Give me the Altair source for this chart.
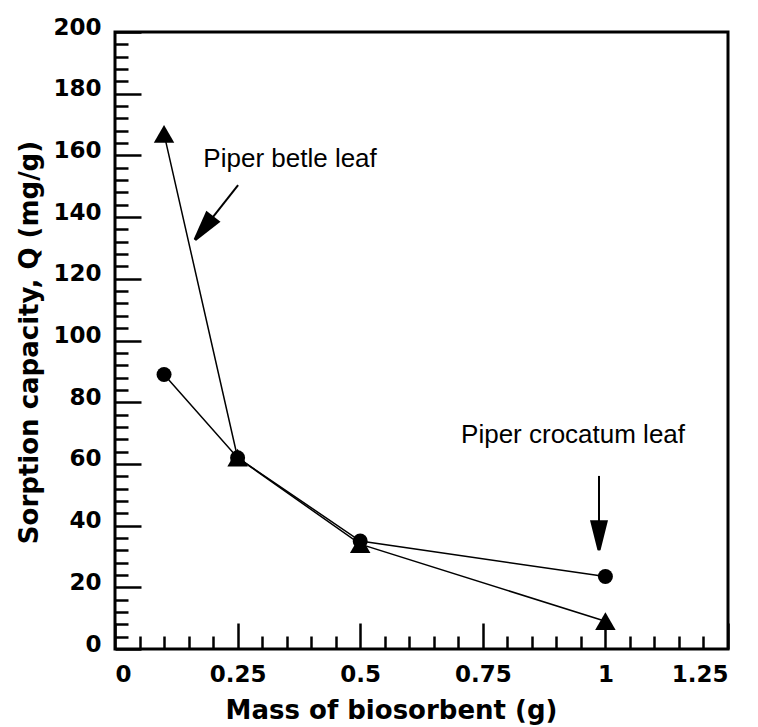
import altair as alt
import pandas as pd

# ---- data ----
mass = [0.1, 0.25, 0.5, 1.0]
betle_q = [167, 62, 34, 9]          # triangles (Piper betle leaf)
crocatum_q = [89, 62, 35, 23.5]     # circles (Piper crocatum leaf)

x_major = [0, 0.25, 0.5, 0.75, 1, 1.25]
x_minor = [0, 0.05, 0.1, 0.15, 0.2, 0.25, 0.3, 0.35, 0.4, 0.45, 0.5, 0.55, 0.6,
           0.65, 0.7, 0.75, 0.8, 0.85, 0.9, 0.95, 1.0, 1.05, 1.1, 1.15, 1.2, 1.25]
y_major = [0, 20, 40, 60, 80, 100, 120, 140, 160, 180, 200]
y_minor = list(range(0, 201, 4))

label_text = ["Piper betle leaf", "Piper crocatum leaf"]
label_x = [0.357, 0.934]
label_y = [156.2, 66.8]
arrow_x_start = [0.251, 0.987]
arrow_y_start = [150.4, 56.1]
arrow_x_end = [0.163, 0.987]
arrow_y_end = [132.6, 32.0]
arrow_angle = [38, 0]

df = pd.DataFrame({
    "mass": mass * 2,
    "q": betle_q + crocatum_q,
    "series": ["betle"] * 4 + ["crocatum"] * 4,
})
ann = pd.DataFrame({
    "text": label_text, "tx": label_x, "ty": label_y,
    "x1": arrow_x_start, "y1": arrow_y_start,
    "x2": arrow_x_end, "y2": arrow_y_end, "angle": arrow_angle,
})

W, H = 613, 617
xs = alt.Scale(domain=[0, 1.25], nice=False, zero=False)
ys = alt.Scale(domain=[0, 200], nice=False, zero=False)

FONT = "DejaVu Sans"

# axes carrying labels and titles (no ticks)
x_label_axis = alt.Axis(
    orient="bottom", values=x_major, format=".12~g", ticks=False, domain=False, grid=False,
    labelFont=FONT, labelFontWeight="bold", labelFontSize=23, labelColor="black",
    labelPadding=14, labelBaseline="top",
    title="Mass of biosorbent (g)", titleFont=FONT, titleFontWeight="bold",
    titleFontSize=26, titleColor="black", titleX=276, titleY=69,
    titleBaseline="alphabetic", titleAlign="center",
)
y_label_axis = alt.Axis(
    orient="left", values=y_major, format=".12~g", ticks=False, domain=False, grid=False,
    labelFont=FONT, labelFontWeight="bold", labelFontSize=23, labelColor="black",
    labelPadding=14, labelOffset=-5,
    title="Sorption capacity, Q (mg/g)", titleFont=FONT, titleFontWeight="bold",
    titleFontSize=26, titleColor="black", titleX=-78, titleY=310,
    titleBaseline="alphabetic", titleAlign="center",
)
# axes carrying only inward ticks
x_tick_axis = alt.Axis(
    orient="top", offset=-H, values=x_minor, labels=False, domain=False, grid=False,
    title=None, tickColor="black", tickWidth=2.5,
    tickSize={"condition": {"test": "abs(datum.value*4 - round(datum.value*4)) < 0.001",
                            "value": 26}, "value": 13},
)
y_tick_axis = alt.Axis(
    orient="right", offset=-W, values=y_minor, labels=False, domain=False, grid=False,
    title=None, tickColor="black", tickWidth=2.5,
    tickSize={"condition": {"test": "datum.value % 20 === 0", "value": 26}, "value": 13},
)

lines = alt.Chart(df).mark_line(color="black", strokeWidth=1.5).encode(
    x=alt.X("mass:Q", scale=xs, axis=x_label_axis),
    y=alt.Y("q:Q", scale=ys, axis=y_label_axis),
    detail="series:N",
)

points = alt.Chart(df).mark_point(filled=True, opacity=1, color="black").encode(
    x=alt.X("mass:Q", scale=xs, axis=x_tick_axis),
    y=alt.Y("q:Q", scale=ys, axis=y_tick_axis),
    shape=alt.Shape("series:N", scale=alt.Scale(domain=["betle", "crocatum"],
                                                 range=["triangle-up", "circle"]), legend=None),
    size=alt.Size("series:N", scale=alt.Scale(domain=["betle", "crocatum"],
                                               range=[420, 225]), legend=None),
)

arrows = alt.Chart(ann).mark_rule(color="black", strokeWidth=2).encode(
    x=alt.X("x1:Q", scale=xs, axis=None),
    y=alt.Y("y1:Q", scale=ys, axis=None),
    x2="x2:Q", y2="y2:Q",
)

heads = alt.Chart(ann).mark_point(
    filled=True, opacity=1, color="black", size=900,
    shape="M-0.1,0 L-0.6,-2 L0.6,-2 L0.1,0 Z",
).encode(
    x=alt.X("x2:Q", scale=xs, axis=None),
    y=alt.Y("y2:Q", scale=ys, axis=None),
    angle=alt.Angle("angle:Q", scale=None),
)

labels = alt.Chart(ann).mark_text(
    font="Liberation Sans", fontSize=26, color="black", align="center", baseline="alphabetic",
).encode(
    x=alt.X("tx:Q", scale=xs, axis=None),
    y=alt.Y("ty:Q", scale=ys, axis=None),
    text="text:N",
)

chart = alt.layer(lines, points, arrows, heads, labels).resolve_axis(
    x="independent", y="independent"
).properties(
    width=W, height=H,
    autosize=alt.AutoSizeParams(type="none"),
    padding={"left": 115, "top": 32, "right": 30, "bottom": 78},
    background="white",
).configure_view(stroke="black", strokeWidth=3)

chart.save("out.html", embed_options={"renderer": "svg", "actions": False})
